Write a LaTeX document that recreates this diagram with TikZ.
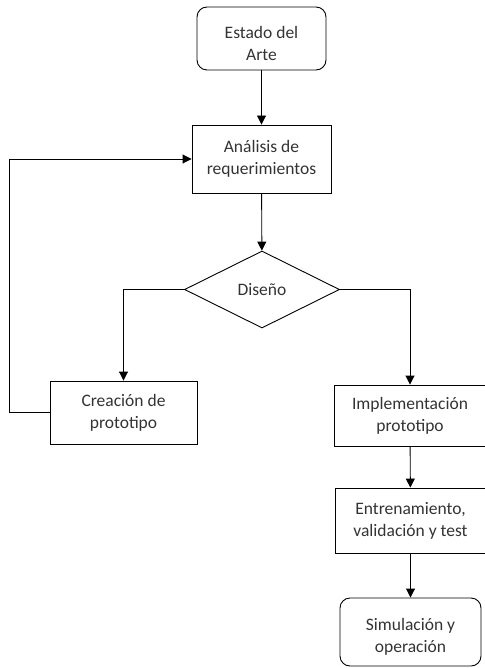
\documentclass[tikz,border=0pt]{standalone}
\usepackage{fontspec}
\setmainfont{Carlito}
\usetikzlibrary{shapes.geometric,arrows.meta}
\definecolor{txt}{HTML}{333333}
\tikzset{
  txtstyle/.style={text=txt, align=center, font=\fontsize{17.5}{22}\selectfont},
  box/.style={draw=black, line width=0.9pt, rectangle, inner sep=0pt, txtstyle},
  rbox/.style={box, rounded corners=10pt},
  lowtext/.style={txtstyle, yshift=-4.5pt, inner sep=0pt},
  dia/.style={draw=black, line width=0.9pt, diamond, inner sep=0pt, txtstyle},
  conn/.style={draw=black, line width=0.9pt, -{Triangle[length=9pt,width=9pt]}},
}
\begin{document}
\begin{tikzpicture}[x=1pt,y=-1pt]
\useasboundingbox (0,0) rectangle (484,668);
\node[rbox, minimum width=129pt, minimum height=63pt,
  label={[name=estadoT, lowtext]center:{Estado del\\Arte}}] (estado) at (261.5,38.5) {};
\node[box, minimum width=139pt, minimum height=68pt] (ana) at (261.5,159) {Análisis de\\requerimientos};
\node[dia, minimum width=155pt, minimum height=77pt] (dis) at (262,289.5) {Diseño};
\node[box, minimum width=147pt, minimum height=63pt] (cre) at (123.5,412.5) {Creación de\\prototipo};
\node[box, minimum width=152pt, minimum height=61pt] (imp) at (410,415.5) {Implementación\\prototipo};
\node[box, minimum width=151pt, minimum height=65pt] (ent) at (410.5,520.5) {Entrenamiento,\\validación y test};
\node[rbox, minimum width=141pt, minimum height=68pt,
  label={[name=simT, lowtext]center:{Simulación y\\operación}}] (sim) at (410.5,632) {};
\coordinate (fb) at (9,411);
\draw[conn] (estado) -- (ana);
\draw[conn] (ana) -- (dis);
\draw[conn] (dis.west) -| (cre.north);
\draw[conn] (dis.east) -| (imp.north);
\draw[conn] (cre.west) -- (cre.west -| fb) |- (ana.west);
\draw[conn] (imp) -- (ent);
\draw[conn] (ent) -- (sim);
\end{tikzpicture}
\end{document}
